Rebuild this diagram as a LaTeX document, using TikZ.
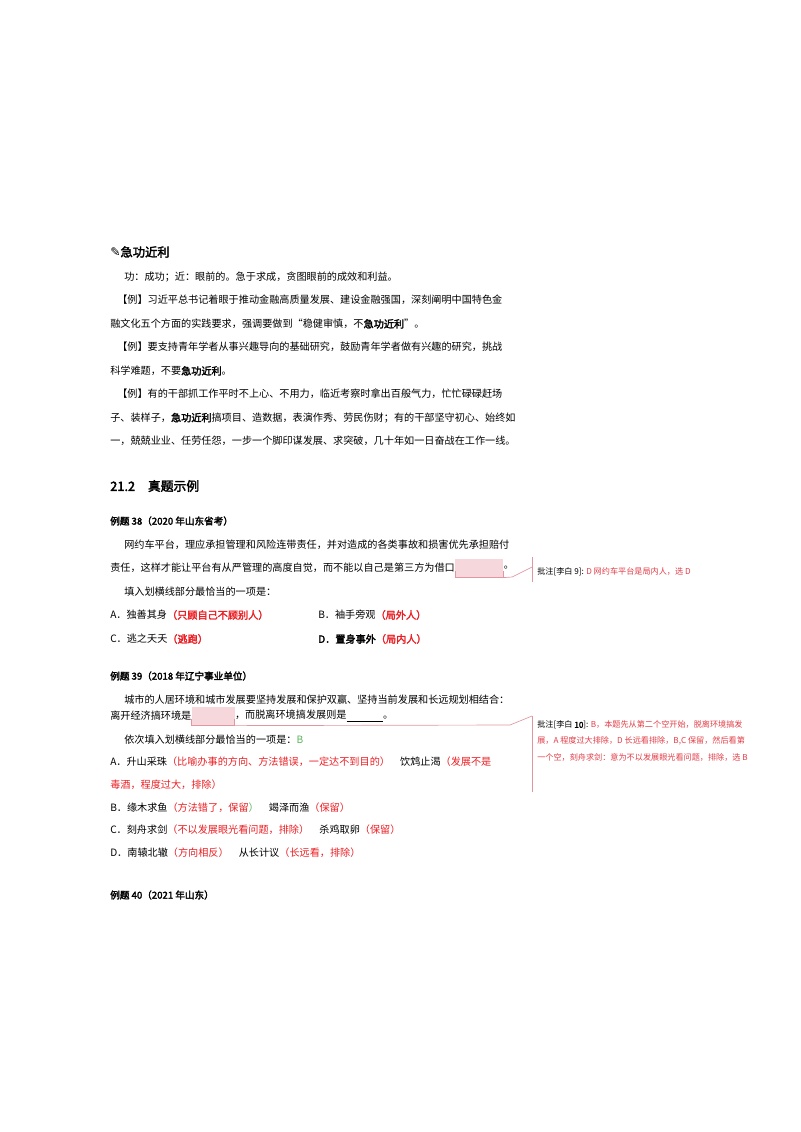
\documentclass[tikz,border=0pt]{standalone}
\usepackage{fontspec}
\setmainfont{Noto Sans CJK SC}[AutoFakeBold=2.5]
\newfontfamily\symfont{DejaVu Sans}
\usepackage{xcolor}
\usetikzlibrary{positioning,calc}
\definecolor{ansred}{RGB}{235,30,35}
\definecolor{cmtred}{RGB}{225,60,70}
\definecolor{hilite}{RGB}{245,215,220}
\definecolor{cmtline}{RGB}{225,150,160}
\definecolor{ansgreen}{RGB}{90,180,90}
\tikzset{
  txt/.style={anchor=west,inner sep=0pt,font=\fontsize{7.6pt}{9pt}\selectfont},
  head/.style={txt,font=\fontsize{7.2pt}{9pt}\selectfont\bfseries},
  cmt/.style={anchor=west,inner sep=0pt,font=\fontsize{6.1pt}{7pt}\selectfont},
  gap/.style={fill=hilite,inner sep=0pt,minimum height=14pt},
  link/.style={draw=cmtline,line width=0.5pt}
}
\newcommand{\rd}[1]{\textcolor{ansred}{\textbf{#1}}}
\newcommand{\rl}[1]{\textcolor{ansred}{#1}}
\begin{document}
\begin{tikzpicture}[x=0.75pt,y=-0.75pt]
\useasboundingbox (0,0) rectangle (800,1132);
% word entry
\node[txt,font=\fontsize{9.2pt}{11pt}\selectfont\bfseries] (title) at (110,252) {{\symfont ✎}急功近利};
\node[txt] (l1) at (124,277) {功：成功；近：眼前的。急于求成，贪图眼前的成效和利益。};
\node[txt] (l2) at (117,300) {【例】习近平总书记着眼于推动金融高质量发展、建设金融强国，深刻阐明中国特色金};
\node[txt] (l3) at (110,324) {融文化五个方面的实践要求，强调要做到“稳健审慎，不\textbf{急功近利}”。};
\node[txt] (l4) at (117,347) {【例】要支持青年学者从事兴趣导向的基础研究，鼓励青年学者做有兴趣的研究，挑战};
\node[txt] (l5) at (110,371) {科学难题，不要\textbf{急功近利}。};
\node[txt] (l6) at (117,394) {【例】有的干部抓工作平时不上心、不用力，临近考察时拿出百般气力，忙忙碌碌赶场};
\node[txt] (l7) at (110,418) {子、装样子，\textbf{急功近利}搞项目、造数据，表演作秀、劳民伤财；有的干部坚守初心、始终如};
\node[txt] (l8) at (110,441) {一，兢兢业业、任劳任怨，一步一个脚印谋发展、求突破，几十年如一日奋战在工作一线。};
% section
\node[txt,font=\fontsize{9.6pt}{11pt}\selectfont\bfseries] (sec) at (110,486) {21.2\quad 真题示例};
% example 38
\node[head] (e38) at (110,521) {例题 38（2020 年山东省考）};
\node[txt] (a1) at (124,545) {网约车平台，理应承担管理和风险连带责任，并对造成的各类事故和损害优先承担赔付};
\node[txt] (a2) at (110,568) {责任，这样才能让平台有从严管理的高度自觉，而不能以自己是第三方为借口};
\node[gap,minimum width=36pt,right=0pt of a2] (g38) {};
\draw[link] ([yshift=5pt]g38.south west) -- (g38.south west) -- (g38.south east) -- ([yshift=5pt]g38.south east);
\node[txt,right=0pt of g38] (a2b) {。};
\node[txt] (a3) at (124,592) {填入划横线部分最恰当的一项是：};
\node[txt] (oA) at (110,615) {A．独善其身\rd{（只顾自己不顾别人）}};
\node[txt] (oB) at (318,615) {B．袖手旁观\rd{（局外人）}};
\node[txt] (oC) at (110,639) {C．逃之夭夭\rd{（逃跑）}};
\node[txt] (oD) at (318,639) {\textbf{D．置身事外}\rd{（局内人）}};
\coordinate (k2) at (512,577);
\coordinate (k3) at (532,567);
\draw[link] (g38.south east) -- (k2) -- (k3);
\draw[link] (532,557) -- (532,582);
\node[cmt] (c9) at (537,572) {批注[李白 9]: \textcolor{cmtred}{D 网约车平台是局内人，选 D}};
% example 39
\node[head] (e39) at (110,676) {例题 39（2018 年辽宁事业单位）};
\node[txt] (b1) at (124,700) {城市的人居环境和城市发展要坚持发展和保护双赢、坚持当前发展和长远规划相结合：};
\node[txt] (b2) at (110,716) {离开经济搞环境是};
\node[gap,minimum width=32pt,right=0pt of b2] (g39) {};
\draw[link] ([yshift=5pt]g39.south west) -- (g39.south west) -- (g39.south east) -- ([yshift=5pt]g39.south east);
\node[txt,right=0pt of g39] (b2b) {，而脱离环境搞发展则是\underline{\hspace{3.6em}}。};
\node[txt] (b3) at (124,740) {依次填入划横线部分最恰当的一项是：\textcolor{ansgreen}{B}};
\node[txt] (qA) at (110,762) {A．升山采珠\rl{（比喻办事的方向、方法错误，一定达不到目的）}\quad 饮鸩止渴\rl{（发展不是}};
\node[txt] (qA2) at (110,785) {\rl{毒酒，程度过大，排除）}};
\node[txt] (qB) at (110,808) {B．缘木求鱼\rl{（方法错了，保留}\textcolor{ansgreen}{）}\quad 竭泽而渔\rl{（保留）}};
\node[txt] (qC) at (110,830) {C．刻舟求剑\rl{（不以发展眼光看问题，排除）}\quad 杀鸡取卵\rl{（保留）}};
\node[txt] (qD) at (110,853) {D．南辕北辙\rl{（方向相反）}\quad 从长计议\rl{（长远看，排除）}};
\coordinate (m2) at (510,725);
\coordinate (m3) at (532,716);
\draw[link] (g39.south east) -- (m2) -- (m3);
\draw[link] (532,716) -- (532,792);
\node[cmt] (c10) at (537,725) {批注[李白 \textbf{10}]: \textcolor{cmtred}{B，本题先从第二个空开始，脱离环境搞发}};
\node[cmt] (c10b) at (537,741) {\textcolor{cmtred}{展，A 程度过大排除，D 长远看排除，B,C 保留，然后看第}};
\node[cmt] (c10c) at (537,757) {\textcolor{cmtred}{一个空，刻舟求剑：意为不以发展眼光看问题，排除，选 B}};
% example 40
\node[head] (e40) at (110,895) {例题 40（2021 年山东）};
\end{tikzpicture}
\end{document}
